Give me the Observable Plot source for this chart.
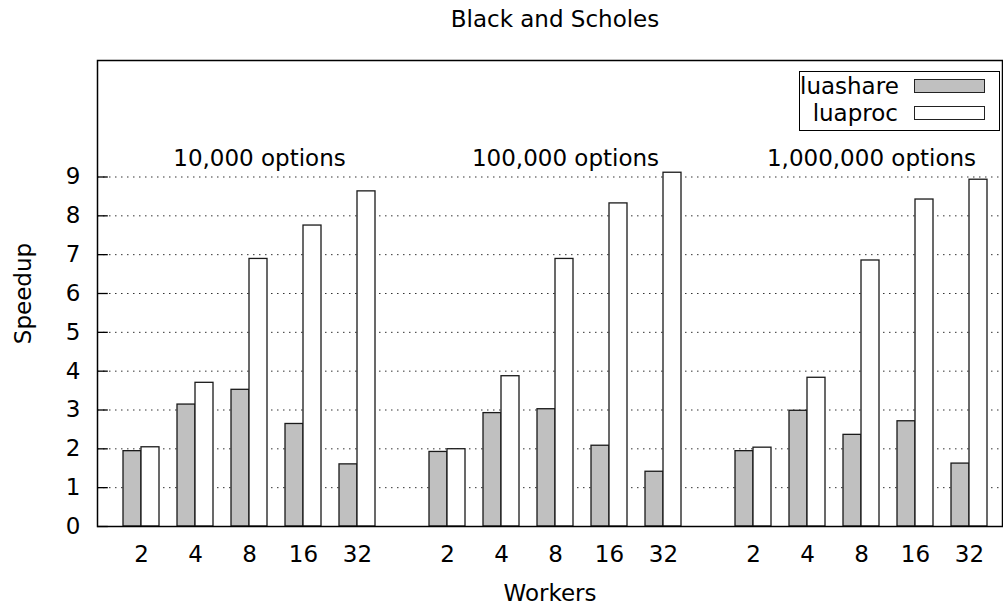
<!DOCTYPE html>
<html><head><meta charset="utf-8">
<script src="https://cdn.jsdelivr.net/npm/d3@7"></script>
<script src="https://cdn.jsdelivr.net/npm/@observablehq/plot@0.6"></script>
<style>
body{margin:0;background:#fff;font-family:"DejaVu Sans",sans-serif;color:#000;}
#wrap{position:relative;width:1003px;height:606px;overflow:hidden;}
#title{height:38px;line-height:38px;font-size:23px;padding-left:107px;text-align:center;box-sizing:border-box;width:1003px;}
#legend{position:absolute;left:799px;top:71px;width:201px;height:60px;border:1px solid #000;box-sizing:border-box;background:#fff;font-size:23px;}
.row{display:flex;align-items:center;height:27px;}
.lab{width:98px;text-align:right;}
.sw{width:71px;height:14px;margin-left:16px;border:1px solid #222;box-sizing:border-box;}
#chart svg{display:block;}
</style></head><body>
<div id="wrap"><div id="title">Black and Scholes</div><div id="chart"></div><div id="legend"></div></div>
<script>
// ---- data ----
const groups = ["10,000 options", "100,000 options", "1,000,000 options"];
const workers = ["2", "4", "8", "16", "32"];
const seriesNames = ["luashare", "luaproc"];
const luashare = [
  [1.94, 3.14, 3.52, 2.64, 1.60],
  [1.92, 2.92, 3.02, 2.08, 1.41],
  [1.94, 2.98, 2.36, 2.71, 1.62]
];
const luaproc = [
  [2.04, 3.70, 6.89, 7.75, 8.63],
  [1.99, 3.87, 6.89, 8.32, 9.11],
  [2.03, 3.83, 6.85, 8.42, 8.93]
];
const yTicks = [0, 1, 2, 3, 4, 5, 6, 7, 8, 9];

// ---- layout (histogram slots, in bar-width units) ----
const clusterStep = 3, groupStep = 17;
const xDomain = [-44 / 18, 861 / 18];
const slot = (g, w) => g * groupStep + w * clusterStep;
const seriesColors = ["#c0c0c0", "#ffffff"];

const table = [];
groups.forEach((grp, g) => workers.forEach((wk, w) => {
  const c = slot(g, w);
  table.push({group: grp, workers: wk, series: seriesNames[0], speedup: luashare[g][w], x1: c - 1, x2: c});
  table.push({group: grp, workers: wk, series: seriesNames[1], speedup: luaproc[g][w], x1: c, x2: c + 1});
}));
const tickPos = [], tickLab = new Map();
groups.forEach((grp, g) => workers.forEach((wk, w) => { tickPos.push(slot(g, w)); tickLab.set(slot(g, w), wk); }));
const groupLabels = groups.map((grp, g) => ({label: grp, x: slot(g, 2)}));

const chart = Plot.plot({
  width: 1003,
  height: 568,
  marginTop: 22,
  marginBottom: 80,
  marginLeft: 97,
  marginRight: 1,
  style: {fontFamily: "DejaVu Sans", fontSize: "23px", color: "#000", background: "#fff"},
  x: {type: "linear", domain: xDomain, axis: null},
  y: {domain: [0, 12], axis: null},
  color: {domain: seriesNames, range: seriesColors},
  marks: [
    Plot.gridY(yTicks, {stroke: "#000", strokeOpacity: 0.8, strokeDasharray: "1.5,4.5", strokeWidth: 1}),
    Plot.ruleY(yTicks, {y: d => d, x1: xDomain[0], x2: xDomain[0] + 0.6, stroke: "#000", strokeWidth: 1.3}),
    Plot.rectY(table, {x1: "x1", x2: "x2", y: "speedup", fill: "series", stroke: "#1a1a1a", strokeWidth: 1.3}),
    Plot.axisY(yTicks, {tickSize: 0, tickPadding: 17, tickFormat: d => String(d), fontSize: 23,
      label: "Speedup", labelAnchor: "center", labelOffset: 83, labelArrow: "none"}),
    Plot.axisX(tickPos, {tickSize: 0, tickPadding: 19, tickFormat: v => tickLab.get(v), fontSize: 23,
      label: "Workers", labelAnchor: "center", labelOffset: 74, labelArrow: "none"}),
    Plot.text(groupLabels, {x: "x", text: "label", frameAnchor: "top", lineAnchor: "middle", dy: 98, dx: 10, fontSize: 23, fill: "#000"}),
    Plot.frame({stroke: "#000", strokeWidth: 1.5})
  ]
});
document.getElementById("chart").appendChild(chart);

// ---- legend ----
const legend = document.getElementById("legend");
seriesNames.forEach((name, i) => {
  const row = document.createElement("div");
  row.className = "row";
  const lab = document.createElement("span");
  lab.className = "lab";
  lab.textContent = name;
  const sw = document.createElement("span");
  sw.className = "sw";
  sw.style.background = seriesColors[i];
  row.appendChild(lab);
  row.appendChild(sw);
  legend.appendChild(row);
});
</script>
</body></html>
